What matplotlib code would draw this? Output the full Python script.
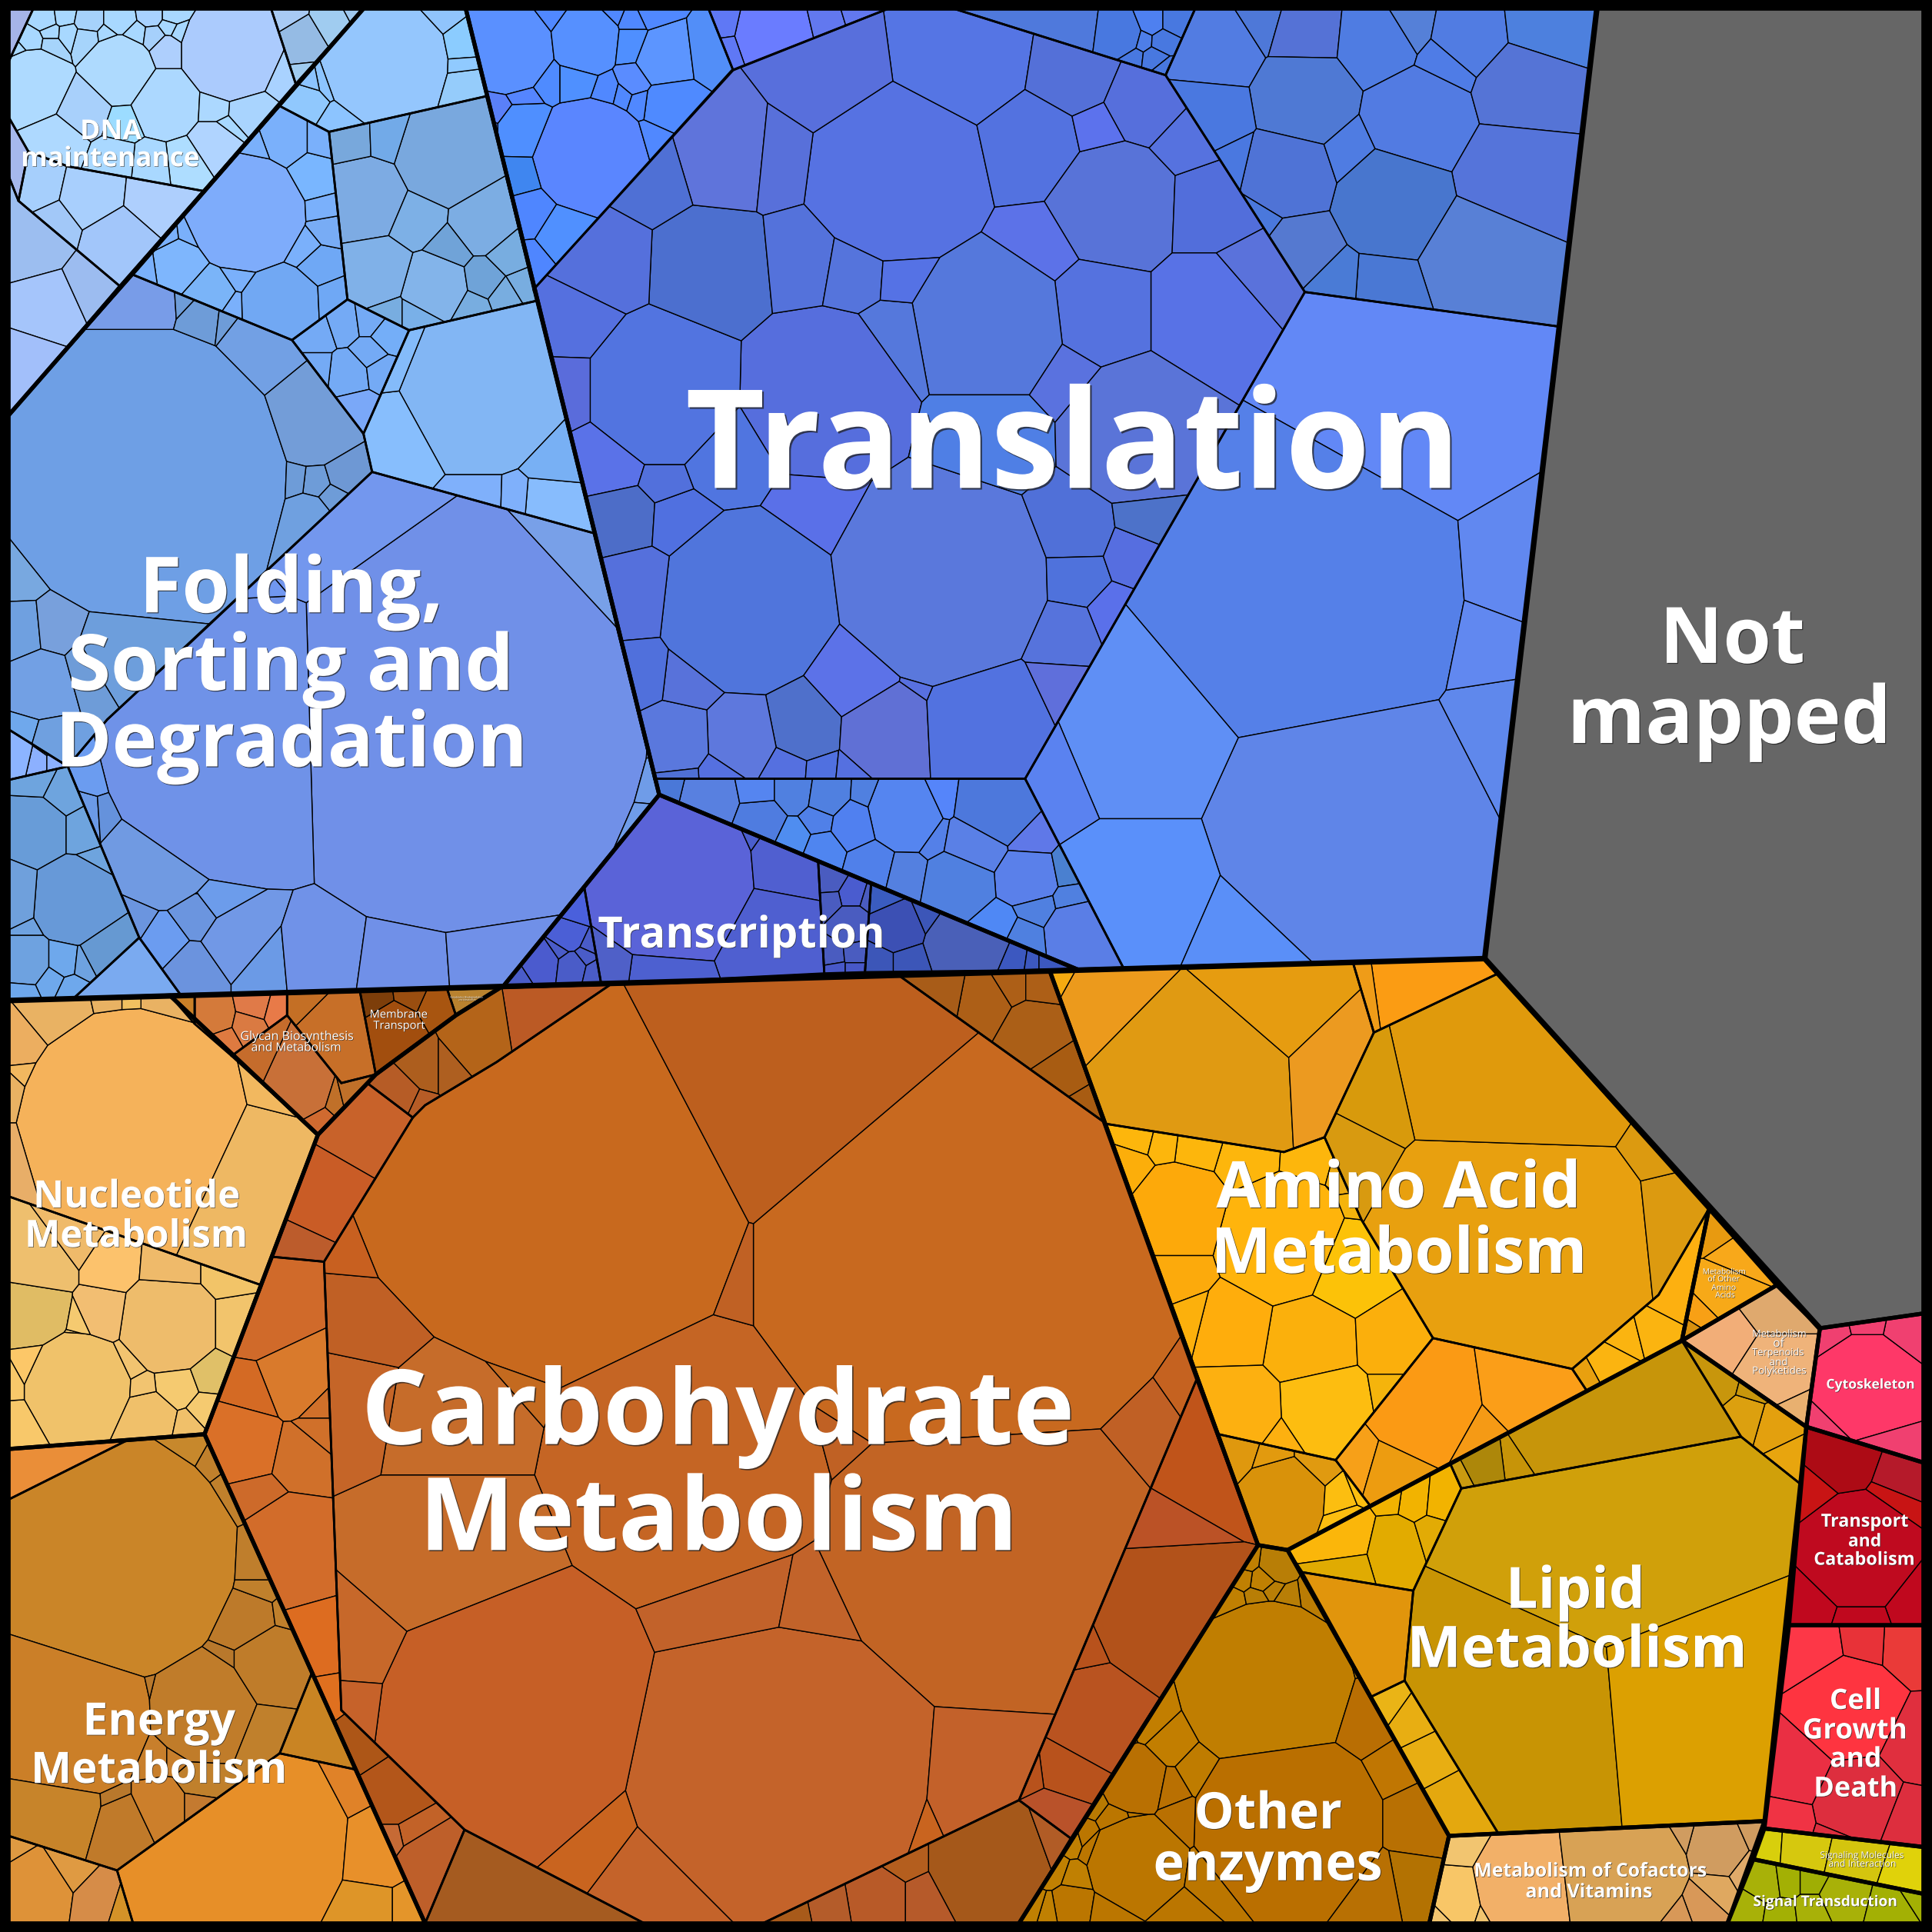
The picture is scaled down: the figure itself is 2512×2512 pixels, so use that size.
import matplotlib
matplotlib.use("Agg")
import matplotlib.pyplot as plt
from matplotlib.patches import Polygon, Rectangle
import matplotlib.patheffects as pe

# everything in a 1568 x 1568 frame, y pointing down
# outlines are polygons, cells are (x, y, radius, colour) seeds of a power diagram

# top level categories (heavy black lines)
notMapped = [(1296, 7), (1561, 7), (1561, 1066), (1477, 1078), (1205, 778)]
translation = [(378, 7), (1296, 7), (1205, 778), (875, 787), (535, 645)]
transcription = [(535, 645), (875, 787), (408, 801)]
folding = [(378, 7), (535, 645), (408, 801), (7, 812), (7, 337), (295, 7)]
dnaMaint = [(7, 7), (295, 7), (7, 337)]
carbs = [(1021, 1254), (852, 788), (407, 801), (370, 824), (305, 872), (258, 921), (166, 1164), (345, 1561), (827, 1561)]
glycanAll = [(138, 808), (407, 801), (370, 824), (305, 872), (258, 921)]
nucleotide = [(7, 812), (138, 808), (258, 921), (166, 1164), (7, 1176)]
energy = [(7, 1176), (166, 1164), (345, 1561), (7, 1561)]
aminoAll = [(852, 788), (1205, 778), (1387, 981), (1365, 1088), (1045, 1258), (1021, 1254)]
otherAmino = [(1387, 981), (1442, 1043), (1365, 1088)]
terpenoids = [(1442, 1043), (1477, 1078), (1466, 1158), (1365, 1088)]
lipid = [(1045, 1258), (1365, 1088), (1466, 1158), (1432, 1478), (1176, 1490)]
otherEnz = [(1021, 1254), (1045, 1258), (1176, 1490), (1160, 1561), (827, 1561)]
cofactors = [(1176, 1490), (1432, 1478), (1402, 1561), (1160, 1561)]
cytoskeleton = [(1477, 1078), (1561, 1066), (1561, 1187), (1466, 1158)]
transport = [(1466, 1158), (1561, 1187), (1561, 1319), (1452, 1319)]
cellGrowth = [(1452, 1319), (1561, 1319), (1561, 1499), (1432, 1484)]
signalMol = [(1432, 1484), (1561, 1499), (1561, 1537), (1423, 1509)]
signalTrans = [(1423, 1509), (1561, 1537), (1561, 1561), (1402, 1561)]
categories = [notMapped, translation, transcription, folding, dnaMaint, carbs, glycanAll, nucleotide,
              energy, aminoAll, otherAmino, terpenoids, lipid, otherEnz, cofactors, cytoskeleton,
              transport, cellGrowth, signalMol, signalTrans]

# DNA maintenance
d1Out = [(27, 7), (220, 7), (240, 68), (165, 155), (55, 135), (23, 123), (7, 95), (7, 50)]
d1 = [(187, 42, 40, '#abcbfd'), (97, 57, 28, '#aedafe'), (135, 83, 27, '#acd8ff'), (28, 68, 28, '#aedaff'),
      (68, 87, 20, '#a8d0fb'), (47, 113, 17, '#aed9ff'), (100, 98, 10, '#9cdcff'), (135, 42, 13, '#aecffd'),
      (173, 115, 15, '#b0d4ff'), (200, 87, 13, '#a9d4fe'), (173, 85, 12, '#acd8ff'), (222, 58, 9, '#a9d2ff'),
      (150, 130, 12, '#aeddff'), (123, 133, 12, '#a9d8ff'), (93, 130, 12, '#a9d8ff'), (37, 15, 6, '#a8d8ff'),
      (52, 13, 5, '#a8d8ff'), (72, 17, 8, '#a6d2fb'), (97, 17, 9, '#a8d8ff'), (123, 13, 6, '#a8d2ff'),
      (140, 13, 5, '#a8d8ff'), (42, 27, 3, '#a8d8ff'), (70, 32, 8, '#a6d4fb'), (87, 30, 5, '#a8d8ff'),
      (110, 30, 8, '#a8d8ff'), (125, 32, 9, '#a6d0fb'), (137, 23, 5, '#a8d8ff'), (25, 35, 7, '#a8d8ff'),
      (42, 38, 6, '#a6d4fb'), (55, 28, 5, '#a8d8ff'), (17, 42, 4, '#a8d8ff'), (145, 27, 5, '#a8d8ff'),
      (182, 103, 3, '#a8d8ff')]
d2Out = [(7, 95), (23, 123), (15, 163), (7, 143)]
d3Out = [(55, 135), (165, 155), (97, 232), (15, 163), (23, 123)]
d3 = [(30, 150, 12, '#a6cffc'), (75, 160, 20, '#a8cffd'), (125, 165, 18, '#aecffd'), (97, 197, 25, '#a2c6fa'),
      (45, 183, 10, '#a2c8f8')]
d4Out = [(7, 143), (15, 163), (97, 232), (7, 337)]
d4 = [(23, 197, 30, '#9cbef0'), (37, 248, 28, '#a5c5fb'), (70, 233, 18, '#9cbcf0'), (20, 300, 30, '#a2bffa')]
d5Out = [(220, 7), (295, 7), (240, 68)]
d5 = [(245, 33, 15, '#95bbe4'), (270, 18, 12, '#a0ccf0'), (233, 13, 6, '#a8caf4'), (285, 10, 3, '#9fc8ee'),
      (248, 62, 3, '#a0ccf0')]

# Folding, Sorting and Degradation
f1Out = [(302, 383), (483, 433), (535, 645), (408, 801), (147, 808), (113, 761), (55, 622), (87, 584), (153, 523)]
f1 = [(370, 595, 155, '#7090e8'), (195, 600, 115, '#6f92e8'), (260, 440, 25, '#7397ee'), (190, 500, 20, '#7097f0'),
      (130, 694, 40, '#709ae2'), (70, 655, 12, '#6b9ae6'), (160, 740, 6, '#6b95df'), (133, 764, 14, '#6b9cf0'),
      (160, 744, 13, '#6b95df'), (157, 787, 18, '#6b93de'), (190, 764, 22, '#7198e6'), (217, 787, 16, '#6b9ae6'),
      (250, 784, 20, '#7092e8'), (173, 734, 7, '#6c9ceb'), (107, 747, 10, '#6b95df'), (110, 624, 14, '#6b95e5'),
      (77, 630, 16, '#6b9cf0'), (85, 654, 9, '#6592dc'), (480, 493, 18, '#78a0e8'), (484, 557, 25, '#6b98e8'),
      (511, 603, 8, '#7f9cef'), (518, 636, 14, '#6f9ce8'), (516, 659, 4, '#6f9ce8'), (330, 795, 15, '#7090e8'),
      (400, 790, 18, '#7090e8')]
f2Out = [(7, 337), (108, 223), (237, 276), (295, 352), (302, 383), (87, 584), (55, 622), (7, 592)]
f2 = [(115, 383, 117, '#6e9fe5'), (253, 337, 40, '#739dd8'), (212, 287, 32, '#72a0e4'), (115, 247, 27, '#789ce8'),
      (163, 260, 14, '#6e9cd8'), (147, 245, 3, '#6e9cd8'), (180, 262, 4, '#6e9cd8'), (257, 390, 8, '#6e9cd8'),
      (280, 383, 13, '#6e98d4'), (240, 388, 4, '#6e9cd8'), (270, 402, 4, '#6e9cd8'), (250, 418, 13, '#6fa0e0'),
      (10, 467, 12, '#78a8e0'), (12, 513, 18, '#6fa0e0'), (43, 510, 8, '#78a0dc'), (100, 530, 30, '#6d9edc'),
      (30, 557, 25, '#72a0e4'), (77, 544, 15, '#6e9cd8'), (20, 591, 8, '#6fa8ec'), (37, 596, 7, '#6fa0e0')]
f3Out = [(7, 633), (55, 622), (113, 761), (60, 810), (7, 812)]
f3 = [(28, 674, 26, '#689cd8'), (60, 731, 34, '#6799d8'), (7, 727, 25, '#6fa0dc'), (20, 779, 20, '#6ea2e0'),
      (50, 779, 11, '#6ea8ec'), (87, 771, 18, '#6699d2'), (65, 674, 12, '#6ea4de'), (30, 637, 5, '#6ea4de'),
      (50, 647, 11, '#6ea4de'), (20, 754, 5, '#6ea2e0'), (40, 794, 8, '#6ea8ec'), (18, 804, 7, '#6ea8ec'),
      (57, 802, 4, '#6ea8ec'), (68, 781, 5, '#6ea2e0'), (75, 704, 6, '#6ea4de')]
f4Out = [(60, 810), (113, 761), (147, 808)]
f5Out = [(7, 592), (55, 622), (7, 633)]
f5 = [(30, 617, 7, '#8cb0ff'), (17, 614, 8, '#8cb4ff'), (43, 617, 3, '#8cb0ff'), (37, 607, 3, '#8cb0ff')]
f6Out = [(108, 223), (227, 86), (267, 107), (282, 243), (237, 276)]
f6 = [(200, 173, 47, '#7eacfb'), (253, 143, 17, '#79b6ff'), (232, 115, 17, '#7ab0fb'), (260, 115, 10, '#7ab0fb'),
      (145, 213, 18, '#7eb6fd'), (172, 237, 16, '#7ab4f8'), (227, 247, 30, '#71a8f3'), (258, 212, 12, '#6fa8f5'),
      (263, 187, 10, '#78acf5'), (247, 200, 12, '#7ab0fb'), (271, 245, 8, '#6fa8f5'), (260, 170, 8, '#7ab0fb'),
      (210, 123, 6, '#7ab0fb'), (193, 223, 8, '#7ab0fb'), (188, 248, 5, '#7ab0fb'), (137, 197, 5, '#7ab0fb'),
      (153, 195, 4, '#7ab0fb'), (117, 217, 3, '#7ab0fb')]
f7Out = [(295, 7), (378, 7), (395, 78), (267, 107), (227, 86)]
f7 = [(313, 50, 50, '#94c6fd'), (372, 38, 10, '#8bccff'), (375, 68, 10, '#95ccfb'), (373, 52, 6, '#90caff'),
      (250, 80, 10, '#90c8fd'), (353, 13, 10, '#90c4fc'), (263, 68, 4, '#8cc4ff'), (253, 70, 5, '#8cc4ff'),
      (277, 97, 7, '#8cc4ff')]
f8Out = [(267, 107), (395, 78), (436, 244), (332, 268), (282, 243)]
f8 = [(360, 127, 36, '#79a8de'), (297, 160, 30, '#7dabe3'), (287, 113, 13, '#78a8dc'), (313, 112, 12, '#72aae8'),
      (337, 177, 16, '#7db0e6'), (392, 182, 20, '#7cade3'), (353, 233, 24, '#83b4ea'), (393, 227, 11, '#6fa3d8'),
      (307, 220, 22, '#80b1e8'), (365, 203, 8, '#70a3d8'), (410, 240, 8, '#78ade0'), (423, 232, 5, '#78ade0'),
      (383, 250, 9, '#78ade0'), (413, 207, 10, '#78ade0'), (320, 257, 5, '#78ade0'), (340, 257, 13, '#79b0e8')]
f9Out = [(237, 276), (282, 243), (332, 268), (295, 352)]
f9 = [(257, 270, 10, '#74aaf5'), (278, 263, 9, '#74aaf5'), (300, 260, 6, '#74aaf5'), (315, 272, 8, '#74aef8'),
      (283, 303, 12, '#74aaf5'), (300, 287, 7, '#74aaf5'), (257, 300, 5, '#74aaf5'), (290, 333, 9, '#7aa8f8'),
      (308, 300, 5, '#74aaf5')]
f10Out = [(332, 268), (436, 244), (483, 433), (302, 383), (295, 352)]
f10 = [(390, 320, 62, '#82b6f4'), (330, 353, 28, '#87befd'), (390, 407, 8, '#7fb0fb'), (447, 410, 20, '#87bcfd'),
       (422, 408, 5, '#7fb0fb'), (450, 377, 12, '#78b0f4'), (323, 293, 8, '#84bbfa')]

# Translation
t1Out = [(594, 57), (721, 7), (774, 7), (946, 61), (1059, 237), (832, 632), (531, 632), (433, 235)]
t1 = [(728, 140, 72, '#5672e2'), (779, 43, 56, '#5575e4'), (674, 57, 48, '#586fdc'), (868, 57, 32, '#5470d8'),
      (929, 83, 26, '#566fdc'), (834, 117, 38, '#5372e0'), (904, 167, 48, '#5873d8'), (844, 203, 26, '#5c72e8'),
      (981, 170, 27, '#526edb'), (981, 253, 42, '#5872e6'), (889, 253, 40, '#5572df'), (1011, 227, 22, '#5a72db'),
      (961, 113, 12, '#5672df'), (889, 105, 10, '#5c72ed'), (804, 263, 62, '#5578dc'), (728, 277, 25, '#5578dc'),
      (668, 320, 65, '#566edd'), (538, 317, 60, '#5274e0'), (578, 217, 45, '#4c6fcf'), (588, 123, 42, '#5f74db'),
      (628, 127, 30, '#5870da'), (531, 140, 30, '#4f70d5'), (491, 213, 30, '#5570dc'), (468, 260, 22, '#5570df'),
      (466, 317, 17, '#5a6cdb'), (494, 373, 25, '#5a72e8'), (591, 367, 32, '#5075e0'), (651, 210, 28, '#5472db'),
      (691, 217, 24, '#5574dc'), (733, 220, 15, '#5572e5'), (661, 413, 20, '#5a70e8'), (607, 490, 70, '#5075dc'),
      (765, 470, 86, '#5a78dc'), (804, 353, 40, '#4f7fe5'), (868, 430, 30, '#5070d8'), (921, 350, 55, '#5a74d8'),
      (861, 300, 25, '#5a72df'), (869, 467, 25, '#4f72dc'), (918, 450, 14, '#566ee0'), (901, 497, 12, '#5a70ea'),
      (929, 422, 12, '#4d72c9'), (504, 420, 22, '#4d6dc8'), (551, 423, 14, '#5070e0'), (538, 387, 9, '#5270dc'),
      (518, 480, 28, '#5570dc'), (861, 513, 25, '#5673dc'), (694, 551, 35, '#5c72e8'), (656, 586, 30, '#4f70cb'),
      (718, 590, 38, '#6070d5'), (801, 586, 50, '#5272e0'), (858, 559, 18, '#5f6fdb'), (739, 560, 8, '#5870e0'),
      (601, 597, 27, '#5e78dd'), (548, 599, 27, '#5a78dd'), (558, 553, 18, '#5872da'), (524, 549, 15, '#5070dc'),
      (641, 620, 10, '#5570e0'), (668, 622, 10, '#5070e0'), (583, 624, 7, '#5570e0'), (551, 626, 6, '#4f70d5'),
      (688, 624, 7, '#5570e0')]
t2Out = [(378, 7), (575, 7), (595, 57), (433, 235)]
t2 = [(413, 40, 35, '#5a90ff'), (476, 33, 27, '#5690ff'), (479, 127, 45, '#5a86ff'), (424, 105, 20, '#4f8fff'),
      (423, 143, 12, '#3f86f0'), (431, 173, 16, '#4f86ff'), (458, 190, 20, '#5090ff'), (434, 210, 8, '#4f86ff'),
      (539, 47, 24, '#5c95ff'), (513, 37, 15, '#4f8fff'), (544, 83, 20, '#4f8aff'), (571, 43, 14, '#528ef8'),
      (516, 63, 13, '#5a8cff'), (494, 72, 5, '#5088ff'), (506, 75, 4, '#5088ff'), (521, 80, 6, '#5088ff'),
      (468, 63, 12, '#4f90ff'), (444, 63, 8, '#4f8bff'), (423, 78, 5, '#5585ff'), (404, 90, 9, '#5a80f8'),
      (399, 105, 5, '#5a80f8'), (531, 112, 5, '#5088ff'), (528, 13, 6, '#5088ff'), (513, 20, 8, '#5088ff'),
      (496, 13, 5, '#5088ff'), (448, 13, 3, '#5088ff')]
t2bOut = [(575, 7), (721, 7), (595, 57)]
t2b = [(628, 27, 30, '#6a7cff'), (588, 18, 9, '#5f78f5'), (671, 17, 12, '#6278ef'), (591, 40, 5, '#5f78f5'),
       (694, 10, 8, '#6278ef')]
t3Out = [(774, 7), (970, 7), (946, 61)]
t3 = [(854, 20, 35, '#4f79dc'), (908, 27, 18, '#4878e0'), (933, 17, 10, '#4e80f0'), (951, 17, 6, '#4878e0'),
      (926, 32, 7, '#4e7ee8'), (943, 33, 6, '#4878e0'), (919, 45, 5, '#4878e0'), (936, 47, 5, '#4878e0'),
      (944, 57, 2, '#4878e0')]
t4Out = [(970, 7), (1296, 7), (1265, 265), (1059, 237), (946, 61)]
t4 = [(988, 40, 28, '#527ce2'), (1024, 17, 10, '#4e78d8'), (1059, 27, 22, '#5572d6'), (1118, 33, 26, '#4f7ce2'),
      (1139, 20, 15, '#5580d8'), (1191, 30, 22, '#517ce2'), (1254, 23, 20, '#4d80de'), (1058, 80, 35, '#4f79d4'),
      (1151, 97, 37, '#527be2'), (1174, 50, 10, '#4f7ce6'), (1238, 73, 32, '#5574d6'), (1231, 143, 40, '#5574da'),
      (1131, 163, 40, '#4876ce'), (1044, 140, 32, '#4f73d6'), (983, 93, 25, '#4a78e0'), (1001, 130, 6, '#4a78e0'),
      (1054, 203, 22, '#5579d0'), (1204, 207, 42, '#5880d6'), (1123, 233, 12, '#4a78d4'), (1081, 230, 8, '#4a7bd6'),
      (1021, 178, 6, '#4a78dc'), (1095, 123, 5, '#4f7ce2')]
t5Out = [(1059, 237), (1265, 265), (1205, 778), (912, 786), (832, 632)]
t5 = [(1144, 330, 85, '#6288f6'), (1060, 480, 125, '#5580e8'), (1095, 665, 105, '#5f85e8'), (930, 590, 65, '#5f8ff5'),
      (930, 720, 42, '#5a90fa'), (1224, 467, 28, '#6188f0'), (1222, 600, 16, '#5f88ec'), (1010, 755, 20, '#5a8ff8'),
      (864, 618, 15, '#5a82f0'), (1208, 510, 4, '#6188f0')]
t6Out = [(531, 632), (832, 632), (912, 786), (875, 787), (535, 645)]
t6 = [(734, 661, 30, '#5585f0'), (574, 651, 25, '#5880e0'), (549, 645, 12, '#4a78d8'), (616, 667, 20, '#4f7ce0'),
      (614, 643, 14, '#5585f0'), (644, 643, 15, '#5080e0'), (671, 647, 15, '#5080e0'), (664, 665, 11, '#5080e8'),
      (643, 680, 13, '#4f8df0'), (668, 690, 14, '#4f85f0'), (694, 670, 18, '#5080f0'), (703, 649, 5, '#5080e0'),
      (708, 701, 18, '#5080ea'), (733, 707, 14, '#5480e0'), (758, 678, 12, '#5480e8'), (764, 647, 14, '#5585fa'),
      (808, 653, 33, '#4d78dc'), (791, 684, 24, '#5a80e6'), (836, 680, 15, '#5f78e8'), (834, 711, 22, '#5a80ea'),
      (778, 715, 25, '#5080e0'), (864, 705, 6, '#4a80d0'), (841, 738, 11, '#5080e0'), (868, 732, 5, '#5080e0'),
      (874, 759, 25, '#5a7ee6'), (831, 763, 15, '#4f80e0'), (811, 753, 12, '#4f88f5')]

# Transcription
tr1Out = [(474, 719), (488, 799), (408, 801)]
tr1 = [(461, 759, 12, '#4b5fd6'), (438, 781, 14, '#4b5bce'), (467, 740, 8, '#4a60dc'), (464, 784, 10, '#4a5cc8'),
       (454, 770, 5, '#4a5cc8'), (478, 767, 4, '#4a5cc8'), (474, 776, 5, '#4a5cc8'), (481, 788, 3, '#4a5cc8'),
       (421, 792, 6, '#4a5cc8')]
tr2Out = [(535, 645), (664, 699), (669, 790), (488, 799), (474, 719)]
tr2 = [(544, 711, 68, '#5a63d8'), (638, 703, 30, '#505fd0'), (628, 757, 38, '#4f5fd0'), (538, 788, 20, '#4d60d0'),
       (494, 782, 6, '#4f60c8'), (534, 655, 5, '#4a5ecd'), (608, 682, 3, '#4a5ecd')]
tr3Out = [(664, 699), (707, 717), (702, 789), (669, 790)]
tr3 = [(673, 717, 6, '#4a5cc0'), (691, 728, 8, '#4a5ccf'), (674, 732, 7, '#4a5cc0'), (691, 749, 14, '#4a5cc0'),
       (674, 776, 5, '#4a5cc0'), (696, 774, 5, '#4a5cc0'), (676, 788, 4, '#4858c8'), (696, 788, 4, '#4858c8'),
       (704, 732, 3, '#4a5cc0')]
tr4Out = [(707, 717), (875, 787), (702, 789)]
tr4 = [(784, 767, 30, '#4a60b8'), (728, 751, 18, '#3c50b4'), (718, 728, 9, '#3a5cc0'), (738, 782, 8, '#3c56b8'),
       (713, 782, 6, '#3c56b8'), (749, 742, 2, '#3c56b8'), (824, 784, 5, '#3c58c0'), (838, 786, 3, '#3c58c0'),
       (848, 786, 2, '#3c58c0')]

# Nucleotide Metabolism
n1Out = [(7, 812), (138, 808), (258, 921), (212, 1043), (7, 971)]
n1 = [(108, 911, 92, '#f5b25a'), (200, 954, 55, '#eeb863'), (7, 941, 20, '#e8ae68'), (50, 827, 18, '#e9b263'),
      (133, 817, 15, '#e9b263'), (95, 817, 3, '#e9b263'), (103, 817, 3, '#f0c060'), (20, 852, 10, '#ecae60'),
      (22, 871, 5, '#f2b85f'), (7, 887, 10, '#e9b263'), (217, 887, 8, '#f2b85f')]
n2Out = [(7, 971), (212, 1043), (166, 1164), (7, 1176)]
n2 = [(137, 1075, 38, '#eebc6b'), (63, 1125, 42, '#f0c26a'), (120, 1151, 20, '#f0c06a'), (27, 1065, 25, '#e0bc64'),
      (33, 1111, 15, '#fcc768'), (83, 1067, 16, '#f2be72'), (143, 1125, 13, '#f5ca70'), (103, 1106, 8, '#f2c470'),
      (115, 1128, 5, '#f2c470'), (170, 1115, 10, '#e0c068'), (190, 1075, 15, '#f2c46c'), (167, 1145, 8, '#f5ca70'),
      (153, 1158, 6, '#f0c06a'), (10, 1155, 15, '#f8c86a'), (8, 1125, 5, '#f8c86a'), (33, 1027, 22, '#eebf6e'),
      (90, 1027, 14, '#fcc26c'), (140, 1031, 18, '#efba6a'), (183, 1031, 14, '#f2c468'), (60, 1007, 10, '#efba6a'),
      (65, 1092, 4, '#f5ca70'), (70, 1073, 4, '#f5ca70')]

# Energy Metabolism
e0Out = [(7, 1176), (103, 1169), (7, 1217)]
e1Out = [(7, 1217), (103, 1169), (166, 1164), (253, 1358), (227, 1423), (95, 1518), (7, 1490)]
e1 = [(90, 1264, 100, '#ca8528'), (50, 1390, 72, '#cb7f28'), (163, 1386, 42, '#c07c2a'), (220, 1350, 30, '#bf7c2a'),
      (200, 1317, 22, '#bd7a2a'), (37, 1469, 45, '#c7842a'), (93, 1485, 22, '#c07a2a'), (133, 1466, 16, '#cc7f2b'),
      (210, 1270, 10, '#bf7e2c'), (213, 1406, 15, '#c0802c'), (160, 1446, 7, '#c0802c'), (157, 1466, 5, '#c47a30'),
      (127, 1423, 8, '#c87f2c'), (140, 1423, 4, '#c87f2c'), (187, 1350, 3, '#b8782c'), (118, 1375, 3, '#b8782c'),
      (85, 1466, 3, '#b8782c'), (170, 1191, 3, '#c0802c'), (147, 1178, 12, '#c7882c'), (182, 1207, 3, '#c0802c'),
      (230, 1313, 4, '#c0802c'), (210, 1290, 3, '#c0802c')]
e2Out = [(253, 1358), (288, 1436), (227, 1423)]
e3Out = [(227, 1423), (288, 1436), (345, 1561), (108, 1561), (95, 1518)]
e3 = [(190, 1492, 90, '#e78f28'), (307, 1502, 25, '#e8902a'), (277, 1446, 15, '#e08228'), (300, 1548, 14, '#de9528'),
      (333, 1548, 8, '#e4952a')]
e4Out = [(7, 1490), (95, 1518), (108, 1561), (7, 1561)]
e4 = [(27, 1535, 30, '#de9238'), (53, 1518, 15, '#df9a42'), (78, 1542, 15, '#d68c48'), (7, 1502, 8, '#df9a42'),
      (97, 1548, 5, '#d49228')]

# Glycan, Membrane Transport, Xenobiotics
g0Out = [(138, 808), (158, 808), (158, 831)]
g1Out = [(158, 808), (233, 806), (233, 824), (188, 857), (158, 831)]
g1 = [(173, 824, 15, '#d47a3a'), (207, 817, 12, '#e07a48'), (222, 821, 9, '#e87a48'), (203, 831, 11, '#da7a42'),
      (180, 844, 8, '#de7a40')]
g2Out = [(188, 857), (233, 824), (277, 879), (305, 872), (258, 921)]
g2 = [(240, 881, 27, '#c87038'), (203, 864, 18, '#c56c2c'), (257, 912, 8, '#d06a30'), (275, 892, 3, '#c07029'),
      (287, 889, 10, '#c07029')]
g3Out = [(233, 806), (292, 804), (305, 872), (277, 879), (233, 824)]
g3 = [(270, 837, 25, '#c76f28'), (247, 814, 10, '#c46f25')]
g4Out = [(292, 804), (363, 803), (370, 824), (305, 872)]
g4 = [(320, 840, 25, '#a24e0e'), (355, 820, 15, '#a85510'), (305, 815, 8, '#7d3e0a'), (335, 811, 8, '#9a4e10')]
g5Out = [(363, 803), (407, 801), (370, 824)]

# Carbohydrate Metabolism
cMainOut = [(263, 1024), (335, 907), (345, 897), (403, 862), (497, 798), (730, 792), (895, 910), (971, 1120),
            (827, 1461), (619, 1561), (523, 1561), (377, 1485), (277, 1388)]
cMain = [(450, 950, 165, '#c8691e'), (790, 1010, 181, '#c8691f'), (560, 1180, 100, '#c56524'), (360, 1263, 60, '#c66c2a'),
         (360, 1140, 50, '#c66c2a'), (805, 1250, 125, '#c26424'), (632, 1442, 120, '#c4632a'), (413, 1396, 105, '#c65f26'),
         (606, 1313, 20, '#c2622a'), (652, 1322, 8, '#c2632a'), (792, 1455, 35, '#c3612a'), (739, 1479, 12, '#c9641f'),
         (546, 1528, 50, '#c4632a'), (493, 1488, 15, '#c9641f'), (293, 1340, 25, '#c7682a'), (290, 1380, 15, '#c6622a'),
         (300, 1130, 35, '#c56528'), (310, 1082, 35, '#c06025'), (393, 1111, 12, '#c46a1f'), (317, 1004, 20, '#c86020'),
         (926, 1148, 30, '#c06025'), (959, 1125, 22, '#c56220'), (706, 1141, 30, '#c06124'), (650, 845, 155, '#bd5f1e'),
         (607, 1010, 30, '#c06124')]
cWedgeOut = [(298, 879), (305, 872), (370, 824), (407, 801), (497, 798), (403, 862), (345, 897), (335, 907)]
cWedge = [(447, 834, 25, '#bb5a25'), (383, 844, 20, '#b46419'), (343, 864, 17, '#ad5e1e'), (360, 864, 12, '#ae5f20'),
          (320, 887, 18, '#b65c26'), (335, 894, 5, '#b65c26')]
cRingOut = [(258, 921), (298, 879), (335, 907), (263, 1024), (221, 1020)]
cRing = [(298, 917, 30, '#c8622a'), (267, 971, 30, '#c95c26'), (247, 1014, 12, '#bc5c2c')]
cLeftOut = [(221, 1020), (263, 1024), (277, 1388), (377, 1485), (345, 1561), (166, 1164)]
cLeft = [(217, 1072, 20, '#d06a2a'), (240, 1121, 24, '#d97a2c'), (207, 1134, 12, '#d46a24'), (197, 1171, 28, '#da7028'),
         (243, 1181, 18, '#d0702a'), (233, 1254, 35, '#d26c2a'), (207, 1214, 10, '#cd6a2a'), (257, 1138, 8, '#d0702a'),
         (257, 1340, 15, '#dd6c20'), (263, 1376, 8, '#e0701f'), (257, 1164, 8, '#d0702a'), (320, 1459, 22, '#b3561a'),
         (290, 1413, 12, '#ad5617'), (333, 1482, 10, '#c26228'), (347, 1505, 15, '#be5f2a'), (320, 1485, 6, '#c66a35')]
cBottomOut = [(345, 1561), (377, 1485), (523, 1561)]
cBrOut = [(619, 1561), (827, 1461), (869, 1492), (827, 1561)]
cBr = [(802, 1512, 45, '#a5581a'), (712, 1542, 25, '#b85a28'), (676, 1548, 15, '#b45c2a'), (746, 1542, 15, '#b65a2a'),
       (732, 1512, 12, '#b45e1e'), (642, 1555, 10, '#a85a1a'), (857, 1492, 5, '#b15c26')]
cRightOut = [(827, 1461), (971, 1120), (1021, 1254), (869, 1492)]
cRight = [(976, 1181, 40, '#c0541a'), (946, 1310, 55, '#b2521a'), (889, 1390, 35, '#b95320'), (862, 1439, 15, '#b8521c'),
          (852, 1469, 14, '#b9522a'), (942, 1240, 15, '#bb5226'), (839, 1442, 3, '#b8521c'), (879, 1340, 3, '#b8521c')]
cTrOut = [(730, 792), (852, 788), (895, 910)]
cTr = [(796, 815, 20, '#ad5f17'), (840, 840, 25, '#ab5f17'), (860, 870, 20, '#a85c12'), (770, 810, 14, '#a85c18'),
       (875, 895, 5, '#a85c12'), (820, 800, 8, '#ad5f17'), (845, 800, 8, '#ad5f17')]

# Amino Acid Metabolism
a1Out = [(852, 788), (1098, 781), (1115, 838), (1075, 923), (1042, 935), (897, 912)]
a1 = [(965, 876, 80, '#e09a12'), (907, 819, 45, '#ec9a1c'), (1023, 809, 50, '#e69c10'), (1081, 870, 30, '#ec9a20'),
      (862, 794, 6, '#f5aa10')]
a2Out = [(1098, 781), (1205, 778), (1216, 790), (1115, 838)]
a2 = [(1148, 803, 30, '#fb9c13'), (1105, 809, 5, '#ef9c18')]
a3Out = [(1075, 923), (1115, 838), (1216, 790), (1387, 981), (1346, 1051), (1276, 1111), (1163, 1086), (1105, 990)]
a3 = [(1230, 1010, 110, '#e8a00f'), (1235, 860, 100, '#e09a0c'), (1119, 886, 25, '#d89a0c'), (1356, 997, 35, '#dc9a10'),
      (1340, 930, 5, '#dc9a10'), (1095, 933, 10, '#d89a10')]
a4Out = [(897, 912), (1042, 935), (1075, 923), (1105, 990), (1163, 1086), (1084, 1185), (989, 1164)]
a4 = [(1042, 1007, 52, '#ffb40c'), (1095, 1029, 40, '#fcc208'), (1064, 1086, 38, '#fbb00c'), (1004, 1076, 30, '#ffad0c'),
      (1129, 1083, 30, '#fbaf0c'), (1076, 1140, 35, '#fdbd10'), (1006, 1143, 32, '#fdb010'), (956, 984, 36, '#fda90a'),
      (956, 1035, 18, '#fcaa0c'), (968, 1067, 10, '#fcb00c'), (1013, 940, 15, '#fdb60c'), (970, 927, 12, '#fdb60c'),
      (922, 918, 10, '#fdb60c'), (946, 924, 5, '#fdb60c'), (1062, 943, 10, '#fdb60c'), (1095, 952, 6, '#ebaa12'),
      (1100, 984, 6, '#f5b40c'), (1071, 983, 4, '#f5b40c'), (1129, 1131, 10, '#f5b40c'), (1037, 1166, 8, '#fdb010'),
      (912, 949, 12, '#fcae0a')]
a5Out = [(989, 1164), (1084, 1185), (1112, 1222), (1045, 1258), (1021, 1254)]
a5 = [(1042, 1213, 30, '#d9920a'), (1004, 1178, 10, '#df980e'), (1035, 1188, 12, '#e29a0e'), (1066, 1188, 12, '#e09a10'),
      (1090, 1216, 6, '#fcbe10'), (1095, 1232, 5, '#fcbe10'), (1105, 1210, 4, '#fcbe10')]
a6Out = [(1084, 1185), (1163, 1086), (1276, 1111), (1288, 1129), (1112, 1222)]
a6 = [(1158, 1137, 45, '#fb9a14'), (1230, 1127, 30, '#fb9e18'), (1100, 1185, 10, '#f7a018'), (1131, 1194, 16, '#ed9c10'),
      (1197, 1159, 20, '#f59a15')]
a7Out = [(1276, 1111), (1346, 1051), (1387, 981), (1365, 1088), (1288, 1129)]
a7 = [(1317, 1086, 10, '#fbb410'), (1307, 1105, 12, '#fbb410'), (1356, 1051, 10, '#fdb010'), (1341, 1080, 8, '#fbb410'),
      (1283, 1118, 6, '#e8a00f')]
ao = [(1401, 1051, 20, '#f7a918'), (1394, 994, 6, '#e89a10'), (1385, 1067, 10, '#f8a015'), (1375, 1083, 5, '#d8900e'),
      (1413, 1022, 10, '#f8a81a')]
terp = [(1404, 1086, 20, '#f2ae78'), (1438, 1108, 25, '#efb37a'), (1438, 1060, 22, '#dfa96e'), (1459, 1153, 4, '#e8b070')]

# Lipid Metabolism
l1Out = [(1186, 1208), (1413, 1166), (1462, 1205), (1432, 1478), (1216, 1488), (1140, 1364), (1147, 1291)]
l1 = [(1310, 1235, 95, '#d0a00a'), (1234, 1405, 90, '#c89404'), (1372, 1393, 80, '#dca001')]
l2Out = [(1365, 1088), (1413, 1166), (1186, 1208), (1177, 1188)]
l2 = [(1293, 1143, 70, '#c7950a'), (1230, 1185, 12, '#c79408'), (1206, 1188, 15, '#ad870a'), (1183, 1200, 5, '#ca9a10')]
l3Out = [(1365, 1088), (1466, 1158), (1462, 1205), (1413, 1166)]
l3 = [(1442, 1156, 15, '#e3a00e'), (1421, 1150, 10, '#dca00f'), (1394, 1118, 6, '#c8960c'), (1428, 1127, 5, '#c8960c'),
      (1454, 1181, 8, '#e8a50e')]
l4Out = [(1045, 1258), (1177, 1188), (1186, 1208), (1147, 1291), (1057, 1276)]
l4 = [(1086, 1244, 30, '#fbb60a'), (1129, 1254, 22, '#e2ab00'), (1089, 1266, 22, '#e0ab02'), (1147, 1218, 10, '#f2b300'),
      (1169, 1220, 8, '#f2b300'), (1126, 1215, 10, '#f2b300'), (1162, 1244, 8, '#e2ab05')]
l5Out = [(1057, 1276), (1147, 1291), (1140, 1364), (1113, 1377)]
l6Out = [(1113, 1377), (1140, 1364), (1216, 1488), (1176, 1490)]
l6 = [(1180, 1461, 15, '#e4a80e'), (1162, 1427, 14, '#e8ae12'), (1147, 1396, 10, '#e8ae12'), (1126, 1381, 6, '#eab416')]

# the rest
oe = [(1030, 1370, 70, '#c07e01'), (1045, 1478, 75, '#ba6f00'), (1104, 1393, 30, '#b96e03'), (1129, 1432, 15, '#c07602'),
      (1151, 1478, 22, '#b87003'), (1144, 1527, 16, '#b37202'), (1118, 1532, 18, '#b87003'), (1024, 1283, 8, '#c08002'),
      (1035, 1271, 10, '#b87e06'), (1075, 1296, 18, '#ba7c04'), (1091, 1354, 10, '#bb7d06'), (1045, 1300, 6, '#b87e06'),
      (1009, 1281, 6, '#c08002'), (919, 1446, 26, '#b97002'), (922, 1512, 38, '#bb7600'), (869, 1545, 15, '#bb7600'),
      (869, 1492, 10, '#c08002'), (952, 1413, 14, '#c27e00'), (976, 1436, 16, '#bf7c00'), (949, 1452, 10, '#b97002'),
      (989, 1522, 20, '#bb7600'), (852, 1518, 12, '#c08002'), (906, 1475, 12, '#bb7600'), (916, 1472, 7, '#bb7600'),
      (852, 1548, 8, '#c08002'), (842, 1545, 6, '#c08002'), (889, 1462, 10, '#b87a02'), (879, 1489, 8, '#bb7600'),
      (1000, 1300, 8, '#c08002'), (1020, 1296, 6, '#b87e06'), (1030, 1290, 4, '#b87e06'), (1012, 1268, 5, '#c08002'),
      (895, 1430, 12, '#c08002'), (935, 1395, 12, '#c27e00'), (905, 1405, 8, '#c08002'), (890, 1500, 10, '#bb7600'),
      (872, 1525, 8, '#c08002'), (958, 1475, 10, '#b97002'), (960, 1555, 10, '#bb7600'), (900, 1550, 10, '#bb7600')]
cof = [(1234, 1527, 38, '#f2b068'), (1318, 1517, 50, '#d8a255'), (1394, 1500, 22, '#d09c60'), (1184, 1537, 20, '#f8c667'),
       (1187, 1500, 10, '#f2c570'), (1391, 1532, 10, '#dfa860'), (1380, 1544, 10, '#d89858'), (1361, 1491, 8, '#d09c60'),
       (1416, 1517, 8, '#e0aa6a'), (1421, 1488, 4, '#d09c60'), (1205, 1544, 5, '#f2c570'), (1165, 1556, 3, '#f2c570'),
       (1361, 1551, 6, '#d89858')]
cyto = [(1515, 1124, 40, '#fe3868'), (1486, 1080, 8, '#f04070'), (1548, 1080, 12, '#f04070'), (1529, 1172, 4, '#f04070'),
        (1481, 1159, 4, '#f04070'), (1515, 1073, 6, '#f04070')]
trans = [(1507, 1259, 45, '#bf0a1f'), (1495, 1180, 25, '#ad0b15'), (1545, 1198, 16, '#b51a2a'), (1467, 1300, 18, '#c0081e'),
         (1554, 1296, 10, '#c0081e'), (1507, 1313, 8, '#c0081e'), (1470, 1210, 8, '#c81414'), (1539, 1213, 8, '#c81414')]
growth = [(1499, 1388, 40, '#fe3440'), (1467, 1337, 22, '#fd3747'), (1550, 1332, 18, '#ea3a38'), (1514, 1330, 10, '#e83238'),
          (1456, 1435, 28, '#ea2f43'), (1507, 1459, 32, '#dd2e3e'), (1554, 1415, 22, '#e02f3e'), (1449, 1471, 14, '#f03344'),
          (1543, 1473, 12, '#dd2e3e'), (1496, 1486, 6, '#dd2e3e')]
sigMol = [(1434, 1498, 8, '#d8cf0c'), (1463, 1500, 15, '#d6c80e'), (1507, 1510, 18, '#d4c50e'), (1543, 1522, 12, '#e0d20a')]
sigTr = [(1434, 1527, 12, '#a8b108'), (1449, 1525, 10, '#a3b004'), (1470, 1525, 6, '#9fae04'), (1496, 1539, 15, '#a8b108'),
         (1536, 1549, 14, '#a3b004'), (1420, 1550, 6, '#a8b108'), (1445, 1554, 8, '#a3b004'), (1470, 1551, 8, '#a8b108'),
         (1550, 1540, 6, '#a3b004')]

# outline, cells, colour for a flat pathway
pathways = [
    (notMapped, [], '#666666'),
    (d1Out, d1, '#a8d8ff'), (d2Out, [], '#a6b8ed'), (d3Out, d3, '#a8cffd'), (d4Out, d4, '#a2bffa'), (d5Out, d5, '#a0ccf0'),
    ([(7, 7), (27, 7), (7, 50)], [], '#a6b4e8'),
    (f1Out, f1, '#7090e8'), (f2Out, f2, '#6e9fe5'), (f3Out, f3, '#6fa0dc'), (f4Out, [], '#7aaaf0'), (f5Out, f5, '#8cb0ff'),
    (f6Out, f6, '#7ab0fb'), (f7Out, f7, '#94c6fd'), (f8Out, f8, '#79a8de'), (f9Out, f9, '#74aaf5'), (f10Out, f10, '#82b6f4'),
    (t1Out, t1, '#5672e2'), (t2Out, t2, '#5a8cff'), (t2bOut, t2b, '#6a7cff'), (t3Out, t3, '#4f79dc'), (t4Out, t4, '#527ce2'),
    (t5Out, t5, '#5f85e8'), (t6Out, t6, '#5080e0'),
    (tr1Out, tr1, '#4a5cc8'), (tr2Out, tr2, '#505fd0'), (tr3Out, tr3, '#4a5cc0'), (tr4Out, tr4, '#4a60b8'),
    (n1Out, n1, '#f5b25a'), (n2Out, n2, '#f0c26a'),
    (e0Out, [], '#ea8e38'), (e1Out, e1, '#ca8528'), (e2Out, [], '#c98423'), (e3Out, e3, '#e78f28'), (e4Out, e4, '#de9238'),
    (g0Out, [], '#c98028'), (g1Out, g1, '#d47a3a'), (g2Out, g2, '#c87038'), (g3Out, g3, '#c76f28'), (g4Out, g4, '#a24e0e'),
    (g5Out, [], '#b8822f'),
    (cMainOut, cMain, '#c8691e'), (cWedgeOut, cWedge, '#b46419'), (cRingOut, cRing, '#c8622a'), (cLeftOut, cLeft, '#d06a2a'),
    (cBottomOut, [], '#a55b20'), (cBrOut, cBr, '#a5581a'), (cRightOut, cRight, '#b2521a'), (cTrOut, cTr, '#ab5f17'),
    (a1Out, a1, '#e09a12'), (a2Out, a2, '#fb9c13'), (a3Out, a3, '#e09a0c'), (a4Out, a4, '#fdb010'), (a5Out, a5, '#d9920a'),
    (a6Out, a6, '#fb9a14'), (a7Out, a7, '#fbb410'), (otherAmino, ao, '#f7a918'), (terpenoids, terp, '#f2ae78'),
    (l1Out, l1, '#d0a00a'), (l2Out, l2, '#c7950a'), (l3Out, l3, '#dca00f'), (l4Out, l4, '#e2ab00'), (l5Out, [], '#e1950c'),
    (l6Out, l6, '#e8ae12'),
    (otherEnz, oe, '#bb7600'), (cofactors, cof, '#d8a255'), (cytoskeleton, cyto, '#fe3868'), (transport, trans, '#bf0a1f'),
    (cellGrowth, growth, '#ea2f43'), (signalMol, sigMol, '#d6c80e'), (signalTrans, sigTr, '#a8b108'),
]

# text, left edge, right edge, baseline, bold
labels = [
    ("Translation", 556, 1185, 396, True), ("Not", 1347, 1465, 538, True), ("mapped", 1272, 1535, 603, True),
    ("Folding,", 113, 360, 497, True), ("Sorting and", 55, 417, 560, True), ("Degradation", 45, 428, 622, True),
    ("DNA", 65, 115, 113, True), ("maintenance", 17, 162, 135, True), ("Transcription", 485, 718, 769, True),
    ("Carbohydrate", 293, 872, 1172, True), ("Metabolism", 340, 826, 1258, True),
    ("Nucleotide", 27, 195, 980, True), ("Metabolism", 20, 201, 1012, True),
    ("Amino Acid", 987, 1283, 980, True), ("Metabolism", 983, 1288, 1033, True),
    ("Lipid", 1222, 1335, 1305, True), ("Metabolism", 1142, 1418, 1353, True),
    ("Energy", 67, 191, 1408, True), ("Metabolism", 25, 233, 1447, True),
    ("Other", 969, 1089, 1484, True), ("enzymes", 936, 1122, 1526, True),
    ("Metabolism of Cofactors", 1196, 1385, 1523, True), ("and Vitamins", 1238, 1341, 1540, True),
    ("Glycan Biosynthesis", 195, 287, 844, False), ("and Metabolism", 204, 277, 853, False),
    ("Membrane", 300, 347, 826, False), ("Transport", 303, 345, 835, False),
    ("Xenobiotics Biodegradation", 365, 392, 810, False), ("and Metabolism", 372, 386, 812, False),
    ("Metabolism", 1382, 1417, 1034, False), ("of Other", 1386, 1412, 1040, False),
    ("Amino", 1389, 1409, 1047, False), ("Acids", 1392, 1408, 1053, False),
    ("Metabolism", 1422, 1466, 1085, False), ("of", 1439, 1448, 1093, False), ("Terpenoids", 1422, 1464, 1100, False),
    ("and", 1436, 1451, 1108, False), ("Polyketides", 1422, 1466, 1115, False),
    ("Cytoskeleton", 1482, 1554, 1127, True),
    ("Transport", 1478, 1549, 1239, True), ("and", 1500, 1527, 1255, True), ("Catabolism", 1472, 1554, 1270, True),
    ("Cell", 1485, 1527, 1387, True), ("Growth", 1463, 1548, 1411, True), ("and", 1485, 1527, 1434, True),
    ("Death", 1472, 1540, 1458, True),
    ("Signaling Molecules", 1477, 1545, 1508, False), ("and Interaction", 1484, 1539, 1515, False),
    ("Signal Transduction", 1423, 1540, 1547, True),
]


def clip(poly, a, b, c):
    # keep the part of poly with a*x + b*y <= c
    out = []
    for i in range(len(poly)):
        p = poly[i]
        q = poly[(i + 1) % len(poly)]
        dp = a * p[0] + b * p[1] - c
        dq = a * q[0] + b * q[1] - c
        if dp <= 0:
            out.append(p)
        if (dp < 0 and dq > 0) or (dp > 0 and dq < 0):
            t = dp / (dp - dq)
            out.append((p[0] + t * (q[0] - p[0]), p[1] + t * (q[1] - p[1])))
    return out


def powerCell(outline, seeds, i):
    cell = list(outline)
    xi, yi, ri = seeds[i][:3]
    for j in range(len(seeds)):
        if j == i or not cell:
            continue
        xj, yj, rj = seeds[j][:3]
        a = 2 * (xj - xi)
        b = 2 * (yj - yi)
        c = xj * xj + yj * yj - rj * rj - xi * xi - yi * yi + ri * ri
        cell = clip(cell, a, b, c)
    return cell


fig = plt.figure(figsize=(12.56, 12.56), dpi=200, facecolor='black')
ax = fig.add_axes([0, 0, 1, 1])
ax.set_xlim(0, 1568)
ax.set_ylim(1568, 0)
ax.axis('off')

for outline, seeds, colour in pathways:
    ax.add_patch(Polygon(outline, closed=True, facecolor=colour, edgecolor='none', zorder=1))
    for i in range(len(seeds)):
        cell = powerCell(outline, seeds, i)
        if len(cell) > 2:
            ax.add_patch(Polygon(cell, closed=True, facecolor=seeds[i][3], edgecolor='black', linewidth=0.5, zorder=2))
    ax.add_patch(Polygon(outline, closed=True, fill=False, edgecolor='black', linewidth=1.0, zorder=3))

for outline in categories:
    ax.add_patch(Polygon(outline, closed=True, fill=False, edgecolor='black', linewidth=1.9, zorder=4, joinstyle='miter'))

# the heavier lines around the four big blocks
ax.plot([7, 1205, 1477], [812, 778, 1078], color='black', linewidth=2.6, zorder=5)
ax.plot([1296, 1205], [7, 778], color='black', linewidth=2.6, zorder=5)
ax.add_patch(Rectangle((3.5, 3.5), 1561, 1561, fill=False, edgecolor='black', linewidth=4.0, zorder=6))

renderer = fig.canvas.get_renderer()
for text, left, right, base, bold in labels:
    t = ax.text((left + right) / 2, base, text, ha='center', va='baseline', color='white', fontsize=100,
                family='Open Sans', fontweight='bold' if bold else 'normal', zorder=8)
    size = 100 * (right - left) * 2512 / 1568 / t.get_window_extent(renderer).width
    t.set_fontsize(size)
    off = max(0.25, size * 0.012)
    t.set_path_effects([pe.withSimplePatchShadow(offset=(off, -off), shadow_rgbFace='#222222', alpha=0.75)])

fig.savefig('out.png', dpi=200, facecolor='black')
